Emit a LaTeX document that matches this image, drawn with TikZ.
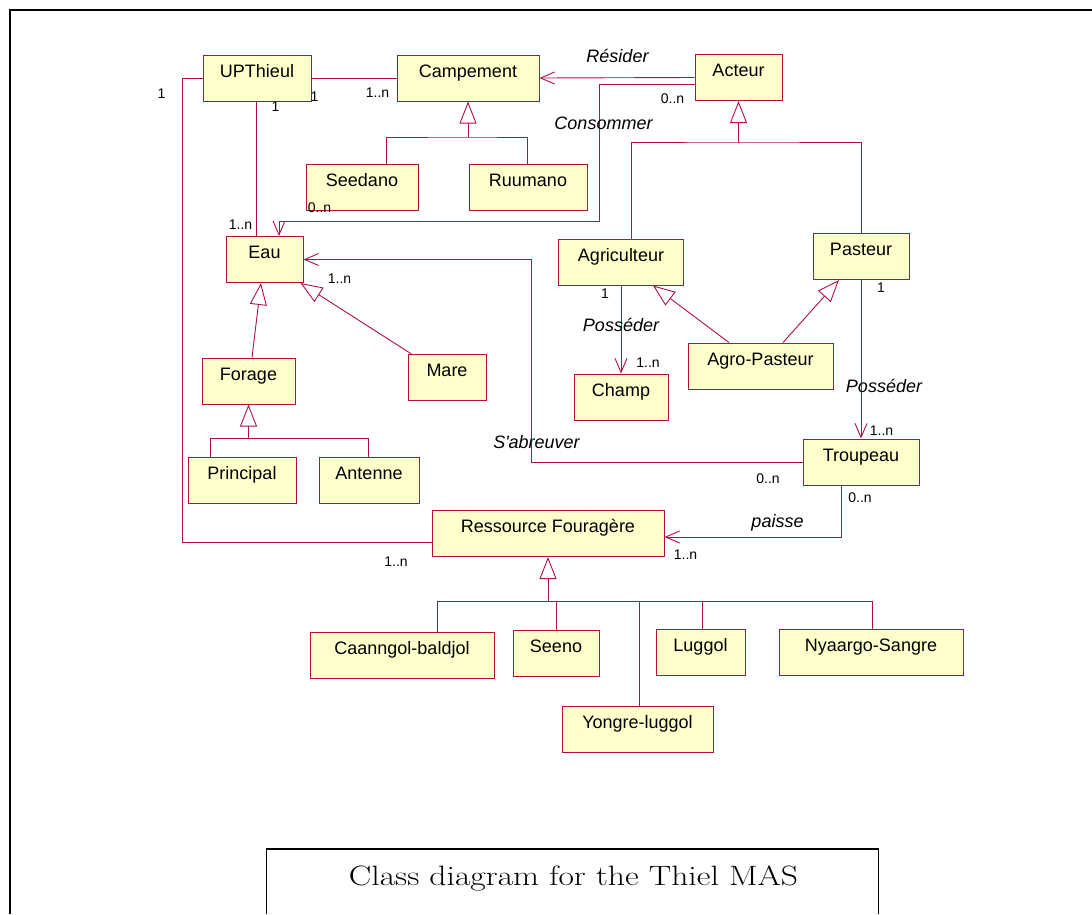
\documentclass[tikz,border=0pt]{standalone}
\usepackage{fontspec}
\newfontfamily\umlfont{Liberation Sans}
\usetikzlibrary{arrows.meta,positioning}
\definecolor{umlred}{RGB}{176,16,70}
\definecolor{umlfill}{RGB}{255,255,204}
\tikzset{
	cls/.style={rectangle, draw=umlred, fill=umlfill, line width=1pt, minimum height=46pt, inner sep=0pt, font=\umlfont\fontsize{18}{20}\selectfont, text height=13pt, text depth=15pt},
	assoc/.style={draw=umlred, line width=0.9pt},
	nav/.style={assoc, -{Straight Barb[length=14pt,width=12pt]}},
	gen/.style={assoc, -{Triangle[open,length=22pt,width=17pt]}},
	mult/.style={font=\umlfont\fontsize{14}{15}\selectfont, inner sep=0pt},
	role/.style={font=\umlfont\itshape\fontsize{18}{20}\selectfont, inner sep=0pt}
}

\begin{document}
\begin{tikzpicture}[x=1pt,y=-1pt]
		\useasboundingbox (0,0) rectangle (1092,914);
		% frame and caption
		\draw[line width=2pt] (10,914) -- (10,10) -- (1092,10);
		\draw[line width=1.3pt] (266.5,914) -- (266.5,849) -- (878.5,849) -- (878.5,914);
		\node at (573.5,885) [anchor=base, inner sep=0pt] (caption) {\fontsize{28}{32}\selectfont\scalebox{1.2}[1]{Class diagram for the Thiel MAS}};
		% classes
		\node at (257,78) [cls, minimum width=108pt] (upt) {UPThieul};
		\node at (468,78) [cls, minimum width=142pt] (camp) {Campement};
		\node at (738.5,77.5) [cls, minimum width=87pt] (act) {Acteur};
		\node at (362,187.5) [cls, minimum width=112pt] (seed) {Seedano};
		\node at (528,187.5) [cls, minimum width=118pt] (ruum) {Ruumano};
		\node at (264.5,259.5) [cls, minimum width=77pt] (eau) {Eau};
		\node at (248.5,381) [cls, minimum width=93pt] (forage) {Forage};
		\node at (447,377.5) [cls, minimum width=78pt] (mare) {Mare};
		\node at (242,480) [cls, minimum width=108pt] (princ) {Principal};
		\node at (369,480) [cls, minimum width=100pt] (ant) {Antenne};
		\node at (621,262) [cls, minimum width=125pt] (agri) {Agriculteur};
		\node at (861,256.5) [cls, minimum width=96pt] (past) {Pasteur};
		\node at (621,397) [cls, minimum width=94pt] (champ) {Champ};
		\node at (760.5,366) [cls, minimum width=145pt] (agro) {Agro-Pasteur};
		\node at (861,462) [cls, minimum width=116pt] (troup) {Troupeau};
		\node at (548,533.5) [cls, minimum width=232pt] (ress) {Ressource Fouragère};
		\node at (402,655.5) [cls, minimum width=184pt] (caan) {Caanngol-baldjol};
		\node at (556,653) [cls, minimum width=86pt] (seeno) {Seeno};
		\node at (700.5,652.5) [cls, minimum width=89pt] (lug) {Luggol};
		\node at (871,652.5) [cls, minimum width=184pt] (nyaa) {Nyaargo-Sangre};
		\node at (637.5,729.5) [cls, minimum width=151pt] (yong) {Yongre-luggol};
		% junctions of the inheritance trees
		\coordinate (campj) at (468,137);
		\coordinate (actj) at (738.5,142);
		\coordinate (forj) at (248.5,438);
		\coordinate (resj) at (548,601);
		\coordinate (cons) at (599,221);
		\coordinate (abr) at (531,259.5);
		% inheritance
		\draw[gen] (campj) -- (camp.south);
		\draw[assoc] ([xshift=24pt]seed.north) |- (campj) -| ([xshift=-1pt]ruum.north);
		\draw[gen] (actj) -- (act.south);
		\draw[assoc] ([xshift=10pt]agri.north) |- (actj) -| (past.north);
		\draw[gen] ([xshift=3.5pt]forage.north) -- ([xshift=-3.5pt]eau.south);
		\draw[gen] ([xshift=4pt]mare.north west) -- ([xshift=-3pt]eau.south east);
		\draw[gen] (forj) -- (forage.south);
		\draw[assoc] ([xshift=-32pt]princ.north) |- (forj) -| ([xshift=-1pt]ant.north);
		\draw[gen] ([xshift=-31.5pt]agro.north) -- ([xshift=32pt]agri.south);
		\draw[gen] ([xshift=22.5pt]agro.north) -- ([xshift=-22pt]past.south);
		\draw[gen] (resj) -- (ress.south);
		\draw[assoc] ([xshift=35pt]caan.north) |- (resj) -| ([xshift=1pt]nyaa.north);
		\draw[assoc] (seeno.north) -- (seeno.north |- resj);
		\draw[assoc] ([xshift=1.5pt]yong.north) -- ([xshift=1.5pt]yong.north |- resj);
		\draw[assoc] ([xshift=1.5pt]lug.north) -- ([xshift=1.5pt]lug.north |- resj);
		% associations
		\draw[assoc] (upt.east) -- (camp.west);
		\draw[assoc] (upt.west) -- ++(-20,0) |- ([yshift=-8.5pt]ress.west);
		\draw[assoc] ([xshift=-1pt]upt.south) -- ([xshift=-1pt]upt.south |- eau.north);
		\draw[nav] (act.west) -- (camp.east);
		\draw[nav] ([yshift=-6.5pt]act.west) -| (cons) -| ([xshift=14.5pt]eau.north);
		\draw[nav] (troup.west) -| (abr) -- (eau.east);
		\draw[nav] (agri.south) -- (champ.north);
		\draw[nav] (past.south) -- (troup.north);
		\draw[nav] ([xshift=-20pt]troup.south) |- ([yshift=-3.5pt]ress.east);
		% role names
		\node at (617.5,56) [role] (rres) {Résider};
		\node at (603.5,123.5) [role] (rcons) {Consommer};
		\node at (536.5,442) [role] (rabr) {S'abreuver};
		\node at (621,324.5) [role] (rpos1) {Posséder};
		\node at (884,385.5) [role] (rpos2) {Posséder};
		\node at (777.5,523) [role] (rpai) {paisse};
		% multiplicities
		\node at (314.5,97) [mult] (m1) {1};
		\node at (377.5,93) [mult] (m2) {1..n};
		\node at (161.5,94) [mult] (m3) {1};
		\node at (275.5,107) [mult] (m4) {1};
		\node at (240.5,225) [mult] (m5) {1..n};
		\node at (319.5,207.5) [mult] (m6) {0..n};
		\node at (672.5,98.5) [mult] (m7) {0..n};
		\node at (339.5,279) [mult] (m8) {1..n};
		\node at (605,293.5) [mult] (m9) {1};
		\node at (648,363) [mult] (m10) {1..n};
		\node at (881,287.5) [mult] (m11) {1};
		\node at (881.5,430.5) [mult] (m12) {1..n};
		\node at (768,479) [mult] (m13) {0..n};
		\node at (860,497.5) [mult] (m14) {0..n};
		\node at (396,562) [mult] (m15) {1..n};
		\node at (685.5,554.5) [mult] (m16) {1..n};
		\end{tikzpicture}
\end{document}
